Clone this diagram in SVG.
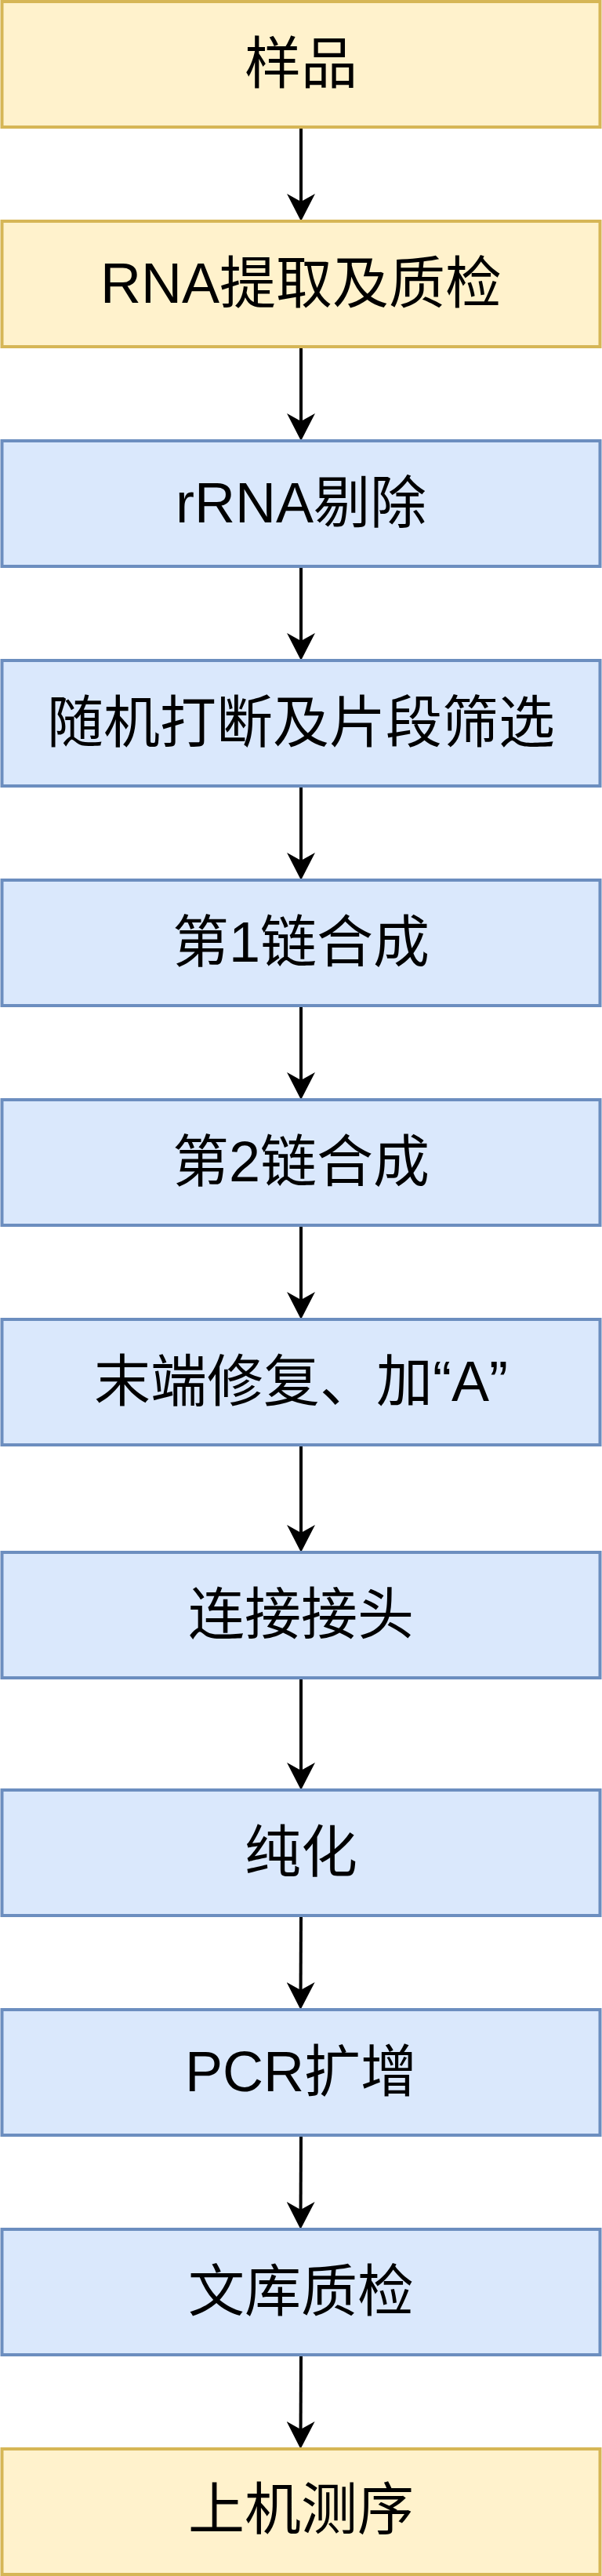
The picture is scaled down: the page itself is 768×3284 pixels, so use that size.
<svg xmlns="http://www.w3.org/2000/svg" width="768" height="3284" viewBox="0 0 768 3284">
<style>
.y{fill:#fff2cc;stroke:#d6b656;stroke-width:4}
.b{fill:#dae8fc;stroke:#6c8ebf;stroke-width:4}
.t{font-family:"Liberation Sans","Noto Sans CJK SC",sans-serif;font-size:72px;fill:#000;text-anchor:middle}
.c{stroke:#000;stroke-width:4;fill:none;marker-end:url(#ah)}
</style>
<defs>
<marker id="ah" markerUnits="userSpaceOnUse" viewBox="0 0 35 36" refX="25" refY="18" markerWidth="35" markerHeight="36" orient="auto">
<path d="M0,0 L35,18 L0,36 L10,18 Z" fill="#000"/>
</marker>
</defs>
<rect width="768" height="3284" fill="#fff"/>
<g id="connectors">
<line class="c" x1="384" y1="162" x2="384" y2="272"/>
<line class="c" x1="384" y1="442" x2="384" y2="552"/>
<line class="c" x1="384" y1="722" x2="384" y2="832"/>
<line class="c" x1="384" y1="1002" x2="384" y2="1112"/>
<line class="c" x1="384" y1="1282" x2="384" y2="1392"/>
<line class="c" x1="384" y1="1562" x2="384" y2="1672"/>
<line class="c" x1="384" y1="1842" x2="384" y2="1969"/>
<line class="c" x1="384" y1="2139" x2="384" y2="2272"/>
<line class="c" x1="384" y1="2442" x2="383.5" y2="2552"/>
<line class="c" x1="384" y1="2722" x2="383.5" y2="2832"/>
<line class="c" x1="384" y1="3002" x2="383.5" y2="3112"/>
</g>
<g id="n1"><rect class="y" x="2.5" y="2" width="763" height="160"/><text class="t" x="384" y="106">样品</text></g>
<g id="n2"><rect class="y" x="2.5" y="282" width="763" height="160"/><text class="t" x="384" y="386">RNA提取及质检</text></g>
<g id="n3"><rect class="b" x="2.5" y="562" width="763" height="160"/><text class="t" x="384" y="666">rRNA剔除</text></g>
<g id="n4"><rect class="b" x="2.5" y="842" width="763" height="160"/><text class="t" x="384" y="946">随机打断及片段筛选</text></g>
<g id="n5"><rect class="b" x="2.5" y="1122" width="763" height="160"/><text class="t" x="384" y="1226">第1链合成</text></g>
<g id="n6"><rect class="b" x="2.5" y="1402" width="763" height="160"/><text class="t" x="384" y="1506">第2链合成</text></g>
<g id="n7"><rect class="b" x="2.5" y="1682" width="763" height="160"/><text class="t" x="384" y="1786">末端修复、加“A”</text></g>
<g id="n8"><rect class="b" x="2.5" y="1979" width="763" height="160"/><text class="t" x="384" y="2083">连接接头</text></g>
<g id="n9"><rect class="b" x="2.5" y="2282" width="763" height="160"/><text class="t" x="384" y="2386">纯化</text></g>
<g id="n10"><rect class="b" x="2.5" y="2562" width="763" height="160"/><text class="t" x="384" y="2666">PCR扩增</text></g>
<g id="n11"><rect class="b" x="2.5" y="2842" width="763" height="160"/><text class="t" x="384" y="2946">文库质检</text></g>
<g id="n12"><rect class="y" x="2.5" y="3122" width="763" height="160"/><text class="t" x="384" y="3224">上机测序</text></g>
</svg>
